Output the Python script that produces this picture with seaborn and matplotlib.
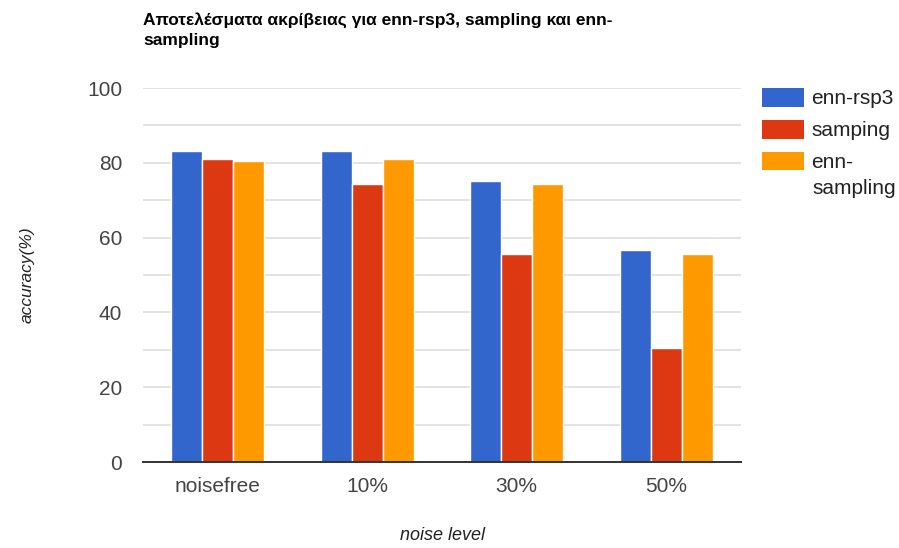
import matplotlib
matplotlib.use("Agg")
import matplotlib.pyplot as plt
import seaborn as sns
import pandas as pd
from matplotlib.patches import Patch
from matplotlib.ticker import MultipleLocator

# Accuracy results per noise level
noise_levels = ["noisefree", "10%", "30%", "50%"]
methods = ["enn-rsp3", "samping", "enn-sampling"]
legend_labels = ["enn-rsp3", "samping", "enn-"]
legend_wrap = "sampling"
enn_rsp3 = [83.1, 83.1, 75.1, 56.8]
samping = [80.9, 74.2, 55.5, 30.5]
enn_sampling = [80.6, 80.9, 74.2, 55.5]
colors = ["#3366CC", "#DC3912", "#FF9900"]

df = pd.DataFrame({
    "noise": noise_levels * 3,
    "method": [m for m in methods for _ in noise_levels],
    "accuracy": enn_rsp3 + samping + enn_sampling,
})

sns.set_theme(style="white")
plt.rcParams["font.family"] = ["Liberation Sans", "DejaVu Sans"]

W, H = 899, 548
fig = plt.figure(figsize=(W / 100, H / 100), dpi=100)
ax = fig.add_axes([143 / W, 1 - 462 / H, 598 / W, 374 / H])

sns.barplot(data=df, x="noise", y="accuracy", hue="method", order=noise_levels,
            hue_order=methods, palette=colors, width=0.62, gap=0.0,
            edgecolor="white", linewidth=1.0, saturation=1, ax=ax, legend=False)

ax.set_ylim(0, 100)
ax.set_xlim(-0.5, 3.5)
ax.yaxis.set_major_locator(MultipleLocator(20))
ax.yaxis.set_minor_locator(MultipleLocator(10))
ax.grid(axis="y", which="both", color="#e0e0e0", linewidth=1.3, zorder=0)
ax.set_axisbelow(True)
for side in ["top", "right", "left"]:
    ax.spines[side].set_visible(False)
ax.spines["bottom"].set_color("#333333")
ax.spines["bottom"].set_linewidth(1.4)
ax.tick_params(axis="both", which="both", length=0, labelsize=15, colors="#444444")
ax.tick_params(axis="y", pad=15)
ax.tick_params(axis="x", pad=11)

ax.set_xlabel("noise level", fontsize=13, style="italic", color="#222222", labelpad=22)
ax.set_ylabel("accuracy(%)", fontsize=12.5, style="italic", color="#222222", labelpad=38)

fig.text(143 / W, 1 - 30 / H, "Αποτελέσματα ακρίβειας για enn-rsp3, sampling και enn-\nsampling",
         fontsize=12.5, fontweight="bold", color="#000000", va="center", ha="left", linespacing=1.45)

handles = [Patch(facecolor=c, edgecolor="none") for c in colors]
fig.legend(handles, legend_labels, loc="upper left", bbox_to_anchor=(762 / W, 1 - 88 / H),
           frameon=False, fontsize=15, handlelength=2.0, handleheight=1.0,
           handletextpad=0.38, labelspacing=0.55, borderpad=0, borderaxespad=0,
           labelcolor="#222222")
fig.text(812 / W, 1 - 189 / H, legend_wrap, fontsize=15, color="#222222",
         va="center", ha="left")

fig.savefig("out.png", dpi=100)
